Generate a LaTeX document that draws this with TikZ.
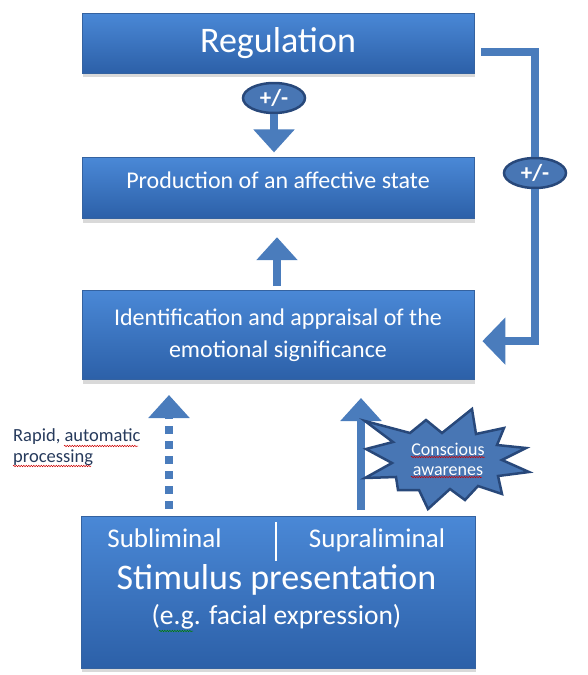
\documentclass[tikz,border=0pt]{standalone}
\usepackage{fontspec}
\setmainfont{Carlito}
\usepackage{tikz}
\usetikzlibrary{positioning, shapes.geometric, arrows.meta, shadows, decorations.pathmorphing}
\definecolor{boxtop}{RGB}{74,136,214}
\definecolor{boxbottom}{RGB}{44,96,168}
\definecolor{boxedge}{RGB}{52,98,160}
\definecolor{arrowblue}{RGB}{74,124,188}
\definecolor{signfill}{RGB}{72,118,180}
\definecolor{signedge}{RGB}{40,72,122}
\definecolor{notetext}{RGB}{38,58,92}
\tikzstyle{box}      = [rectangle, minimum width=392pt, text centered, text=white, top color=boxtop, bottom color=boxbottom, draw=boxedge, line width=0.8pt, drop shadow={shadow xshift=1pt, shadow yshift=-4pt, opacity=0.3}]
\tikzstyle{sign}     = [ellipse, minimum width=62pt, minimum height=30pt, inner sep=0pt, fill=signfill, draw=signedge, line width=2.5pt, text=white, font=\bfseries\fontsize{23}{23}\selectfont]
\tikzstyle{bigarrow} = [draw=arrowblue, line width=8.5pt, -{Triangle[width=40pt, length=23pt]}]
\tikzstyle{loopline} = [draw=arrowblue, line width=8pt, line join=miter]
\tikzstyle{stimtext} = [text=white, anchor=base, inner sep=0pt]
\tikzstyle{typo}     = [red!80!black, line width=0.5pt, decorate, decoration={snake, amplitude=0.7pt, segment length=2.5pt}]

\begin{document}
\begin{tikzpicture}[x=1pt, y=-1pt]
            \useasboundingbox (0,0) rectangle (587,675);
            \node[box, minimum height=60pt, font=\fontsize{36}{40}\selectfont] (reg) at (278,43) {Regulation};
            \node[box, minimum height=61pt, text depth=16pt, font=\fontsize{24}{32}\selectfont] (prod) [below=84pt of reg] {Production of an affective state};
            \node[box, minimum height=89pt, align=center, font=\fontsize{24}{32}\selectfont] (ident) [below=71pt of prod] {Identification and appraisal of the\\emotional significance};
            \node[box, minimum height=152pt, minimum width=394pt] (stim) [below=136pt of ident] {};

            % stimulus box contents
            \node[stimtext, font=\fontsize{27}{30}\selectfont] (sub) at (164.5,547) {Subliminal};
            \node[stimtext, font=\fontsize{27}{30}\selectfont] (sup) at (377,547) {Supraliminal};
            \draw[white, line width=1.2pt] (276,522) -- (276,561);
            \node[stimtext, font=\fontsize{36}{40}\selectfont] (title) at (276.5,589) {Stimulus presentation};
            \node[stimtext, font=\fontsize{27.5}{30}\selectfont] (example) at (276.5,624) {(e.g. facial expression)};
            \draw[typo, green!50!black] (159,631) -- (193,631);

            % regulation feedback
            \node[sign] (regsign) at (274,98) {+/-};
            \node[sign] (loopsign) at (535,173) {+/-};
            \draw[bigarrow, shorten >=5pt] (regsign.south) -- (regsign.south |- prod.north);
            \draw[loopline] ([shift={(7,9)}]reg.east) -| (loopsign.north);
            \draw[loopline, -{Triangle[width=46pt, length=23pt]}] (loopsign.south) |- ([shift={(8,6)}]ident.east);

            \draw[bigarrow, shorten <=4pt, shorten >=18pt] ([xshift=-1pt]ident.north) -- ([xshift=-1pt]prod.south);

            % from the stimulus
            \draw[bigarrow, dash pattern=on 8pt off 7pt, shorten <=7pt, shorten >=15pt] ([xshift=-109pt]stim.north) -- ([xshift=-109pt]ident.south);
            \draw[bigarrow, shorten <=6pt, shorten >=18pt] ([xshift=83pt]stim.north) -- ([xshift=83pt]ident.south);

            \node[text=notetext, align=left, anchor=base west, inner sep=0pt, font=\fontsize{18.5}{21}\selectfont] (rapid) at (13,462) {Rapid, automatic\\processing};
            \draw[typo] (64,446) -- (138,446);
            \draw[typo] (13,466) -- (91,466);

            % conscious awareness burst
            \draw[fill=signfill, draw=signedge, line width=2.5pt, line join=miter]
                (365,421) -- (410,433) -- (426,420) -- (442,433) -- (472,409) -- (476,434)
                -- (504,428) -- (497,445) -- (526,448) -- (502,460) -- (529,472) -- (498,476)
                -- (502,494) -- (478,486) -- (465,500) -- (450,489) -- (428,509) -- (419,490)
                -- (398,490) -- (396,477) -- (365,478) -- (392,463) -- (366,449) -- (393,442) -- cycle;
            \node[text=white, align=center, inner sep=0pt, font=\fontsize{18}{20}\selectfont] (aware) at (448,459) {Conscious\\awarenes};
            \draw[typo] (411,457) -- (485,457);
            \draw[typo] (411,477) -- (482,477);
        \end{tikzpicture}
\end{document}
